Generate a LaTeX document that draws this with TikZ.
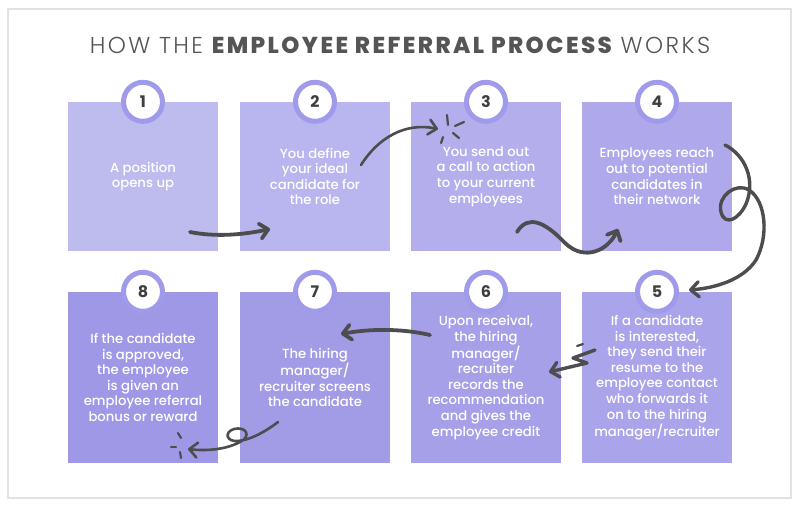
\documentclass[tikz,border=0pt]{standalone}
\usepackage{fontspec}
\setmainfont{Poppins}[UprightFont={* Medium}, BoldFont={* Bold}]
\newfontfamily\poplight{Poppins}[UprightFont={* Light}, LetterSpace=10.5]
\newfontfamily\popheavy{Poppins}[UprightFont={* ExtraBold}, LetterSpace=10.5]
\usetikzlibrary{arrows.meta}
\definecolor{ink}{HTML}{4D4D4F}
\definecolor{ringcol}{HTML}{A09AEA}
\definecolor{framecol}{HTML}{E2E2E2}
\definecolor{titlecol}{HTML}{555558}
\definecolor{numcol}{HTML}{3F3F41}
\definecolor{c1}{HTML}{BEBBEF}
\definecolor{c2}{HTML}{B9B5EE}
\definecolor{c3}{HTML}{B4AFEC}
\definecolor{c4}{HTML}{AFA9EB}
\definecolor{c5}{HTML}{AAA4EA}
\definecolor{c6}{HTML}{A6A0E8}
\definecolor{c7}{HTML}{A29CE7}
\definecolor{c8}{HTML}{9E98E6}
\tikzset{
  card/.style={fill=#1, draw=none, minimum width=150pt, inner sep=0pt, text=white, align=center, font=\fontsize{13.2}{15.6}\selectfont},
  toprow/.style={minimum height=149pt},
  botrow/.style={minimum height=171pt},
  badge/.style={circle, draw=ringcol, line width=5pt, fill=white, minimum size=39pt, inner sep=0pt, text=numcol, font=\fontsize{16}{16}\selectfont\bfseries},
  sketch/.style={draw=ink, line width=3.4pt, line cap=round, line join=round, -{Straight Barb[length=8pt,width=15pt,round]}},
  thinsketch/.style={sketch, line width=2.6pt},
  spark/.style={draw=ink, line width=2.2pt, line cap=round},
}
\begin{document}
\begin{tikzpicture}[x=1pt,y=-1pt]
\useasboundingbox (0,0) rectangle (800,507);
\draw[framecol, line width=2.5pt] (8,9) rectangle (791,498);
\node[text=titlecol, font=\fontsize{23}{23}\selectfont] (title) at (400,45)
  {{\poplight HOW THE }{\popheavy EMPLOYEE REFERRAL PROCESS}{\poplight{} WORKS}};
% cards
\node[card=c1,toprow] (b1) at (143,176.5) {A position\\opens up};
\node[card=c2,toprow] (b2) at (315,176.5) {You define\\your ideal\\candidate for\\the role};
\node[card=c3,toprow] (b3) at (486,176.5) {You send out\\a call to action\\to your current\\employees};
\node[card=c4,toprow] (b4) at (657,176.5) {Employees reach\\out to potential\\candidates in\\their network};
\node[card=c5,botrow] (b5) at (657,377.5) {If a candidate\\is interested,\\they send their\\resume to the\\employee contact\\who forwards it\\on to the hiring\\manager/recruiter};
\node[card=c6,botrow] (b6) at (486,377.5) {Upon receival,\\the hiring\\manager/\\recruiter\\records the\\recommendation\\and gives the\\employee credit};
\node[card=c7,botrow] (b7) at (315,377.5) {The hiring\\manager/\\recruiter screens\\the candidate};
\node[card=c8,botrow] (b8) at (143,377.5) {If the candidate\\is approved,\\the employee\\is given an\\employee referral\\bonus or reward};
% arrows
\coordinate (a1s) at (190,232); \coordinate (a1e) at (270,229);
\draw[sketch, line width=3.8pt] (a1s) .. controls (215,237) and (242,235) .. (a1e);
\coordinate (a2s) at (361,165); \coordinate (a2e) at (438,129);
\draw[thinsketch] (a2s) .. controls (378,138) and (405,122) .. (a2e);
\draw[spark] (447,115) -- (448,125);
\draw[spark] (455,126) -- (464,122);
\draw[spark] (453,133) -- (459,138);
\draw[spark] (443,137) -- (441,143);
\coordinate (a3s) at (517,232); \coordinate (a3e) at (618,229);
\draw[sketch, line width=3.8pt] (a3s) .. controls (528,214) and (545,222) .. (565,243) .. controls (585,262) and (608,250) .. (a3e);
\coordinate (a4s) at (725,145); \coordinate (a4e) at (689,290);
\draw[sketch] (a4s) .. controls (745,155) and (756,180) .. (746,204)
  .. controls (739,219) and (725,227) .. (721,212)
  .. controls (717,196) and (736,182) .. (749,190)
  .. controls (766,201) and (769,236) .. (756,260)
  .. controls (743,280) and (715,288) .. (a4e);
\coordinate (a5s) at (595,350); \coordinate (a5e) at (549,372);
\draw[sketch] (a5s) -- (573,358) -- (587,363) -- (a5e);
\draw[spark] (577,346) -- (583,344);
\coordinate (a6s) at (430,335); \coordinate (a6e) at (341,334);
\draw[sketch, line width=3.8pt] (a6s) .. controls (400,328) and (368,329) .. (a6e);
\coordinate (a7s) at (278,422); \coordinate (a7e) at (188,449);
\draw[thinsketch] (a7s) .. controls (265,432) and (250,440) .. (238,441)
  .. controls (226,442) and (224,432) .. (234,429)
  .. controls (246,426) and (252,436) .. (240,442)
  .. controls (225,450) and (205,451) .. (a7e);
\draw[spark] (178,433) -- (181,438);
\draw[spark] (171,447) -- (176,447);
\draw[spark] (180,452) -- (181,458);
% badges
\node[badge] (n1) at (b1.north) {1};
\node[badge] (n2) at (b2.north) {2};
\node[badge] (n3) at (b3.north) {3};
\node[badge] (n4) at (b4.north) {4};
\node[badge] (n5) at (b5.north) {5};
\node[badge] (n6) at (b6.north) {6};
\node[badge] (n7) at (b7.north) {7};
\node[badge] (n8) at (b8.north) {8};
\end{tikzpicture}
\end{document}
